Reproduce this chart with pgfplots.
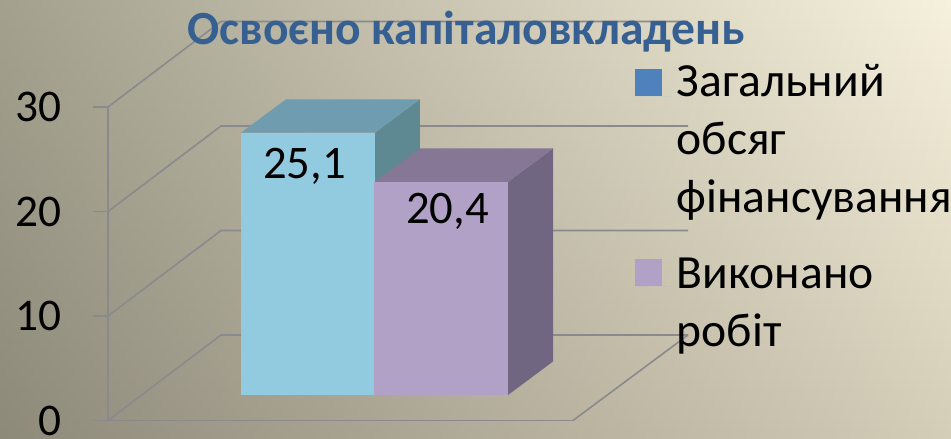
\documentclass[border=0pt]{standalone}
\usepackage{pgfplots}
\pgfplotsset{compat=1.18}
\usepackage{fontspec}
\setmainfont{Carlito}
\definecolor{bgtl}{HTML}{A3A08E}
\definecolor{bgbl}{HTML}{8E8A7A}
\definecolor{bgtr}{HTML}{F6F1DC}
\definecolor{bgbr}{HTML}{D4CDB8}
\definecolor{gridc}{HTML}{8A8A8E}
\definecolor{bluefront}{HTML}{92CBDF}
\definecolor{bluetop}{HTML}{6F9CAE}
\definecolor{blueside}{HTML}{5E8892}
\definecolor{purplefront}{HTML}{B2A1C7}
\definecolor{purpletop}{HTML}{857795}
\definecolor{purpleside}{HTML}{716682}
\definecolor{legblue}{HTML}{4F81BD}
\definecolor{titleblue}{HTML}{376092}
\begin{document}
\begin{tikzpicture}
\path[use as bounding box] (-81pt,-13.875pt) rectangle (632.25pt,315.375pt);
\foreach \i in {0,...,43}{
  \pgfmathsetmacro{\p}{100-\i*100/43}
  \pgfmathsetmacro{\yt}{315.375-\i*7.5}
  \pgfmathsetmacro{\yb}{\yt-7.9}
  \shade[left color=bgtl!\p!bgbl, right color=bgtr!\p!bgbr, shading angle=90] (-81pt,\yb pt) rectangle (632.25pt,\yt pt);
}
\begin{axis}[
  at={(0,0)}, anchor=south west,
  scale only axis, width=348.75pt, height=235.125pt,
  xmin=108, xmax=573, ymin=0, ymax=30,
  clip=false,
  axis y line=left, axis x line=bottom,
  axis line style={-, draw=gridc, line width=1.2pt},
  xtick=\empty,
  ytick={0,10,20,30},
  tick style={draw=gridc, line width=1.2pt},
  tick align=outside, major tick length=11.25pt,
  /pgf/number format/assume math mode=true,
  yticklabel style={font=\fontsize{34}{34}\selectfont, text=black, inner sep=0pt, xshift=-23.2pt},
  title={Освоєно капіталовкладень},
  title style={at={(0.77,1.214)}, anchor=center, font=\fontsize{35.7}{36}\selectfont\bfseries, text=titleblue, inner sep=0pt},
  legend style={at={(1.133,1.1465)}, anchor=north west, draw=none, fill=none, inner sep=0pt,
    font=\fontsize{35.7}{43.5}\selectfont, row sep=28.75pt,
    cells={anchor=west, align=left}},
  legend cell align=left,
]
% walls and floor
\addplot[gridc, line width=1.2pt, forget plot] coordinates {(108,30) (221,38.18) (688,38.18)};
\addplot[gridc, line width=1.2pt, forget plot] coordinates {(108,20) (221,28.18) (688,28.18)};
\addplot[gridc, line width=1.2pt, forget plot] coordinates {(108,10) (221,18.18) (688,18.18)};
\addplot[gridc, line width=1.2pt, forget plot] coordinates {(108,0) (221,8.18) (688,8.18)};
\addplot[gridc, line width=1.2pt, forget plot] coordinates {(573,0) (688,8.18)};
% blue bar
\addplot[draw=none, fill=blueside, yshift=19.125pt, forget plot] coordinates {(375,0) (420,3.2) (420,28.3) (375,25.1)} -- cycle;
\addplot[draw=none, fill=bluetop, yshift=19.125pt, forget plot] coordinates {(241,25.1) (286,28.3) (420,28.3) (375,25.1)} -- cycle;
\addplot[ybar, bar width=100.5pt, bar shift=0pt, draw=none, fill=bluefront, yshift=19.125pt,
  area legend,
  legend image code/.code={\path (0pt,13.5pt) rectangle (29.25pt,13.5pt);\fill[legblue] (0pt,13.5pt) rectangle (20.25pt,33.75pt);},
  nodes near coords, point meta=explicit symbolic,
  nodes near coords style={anchor=north, font=\fontsize{35}{35}\selectfont, text=black, xshift=-2.75pt, yshift=-7.75pt}]
  coordinates {(308,25.1) [25,1]};
\addlegendentry{Загальний\\обсяг\\фінансування}
% purple bar
\addplot[draw=none, fill=purpleside, yshift=19.125pt, forget plot] coordinates {(508,0) (553,3.2) (553,23.6) (508,20.4)} -- cycle;
\addplot[draw=none, fill=purpletop, yshift=19.125pt, forget plot] coordinates {(375,20.4) (420,23.6) (553,23.6) (508,20.4)} -- cycle;
\addplot[ybar, bar width=100.5pt, bar shift=0pt, draw=none, fill=purplefront, yshift=19.125pt,
  area legend,
  legend image code/.code={\path (0pt,-6pt) rectangle (29.25pt,-6pt);\fill[purplefront] (0pt,-6pt) rectangle (20.25pt,14.25pt);},
  nodes near coords, point meta=explicit symbolic,
  nodes near coords style={anchor=north, font=\fontsize{35}{35}\selectfont, text=black, xshift=4.5pt, yshift=-5pt}]
  coordinates {(441.5,20.4) [20,4]};
\addlegendentry{Виконано\\робіт}
\end{axis}
\end{tikzpicture}
\end{document}
